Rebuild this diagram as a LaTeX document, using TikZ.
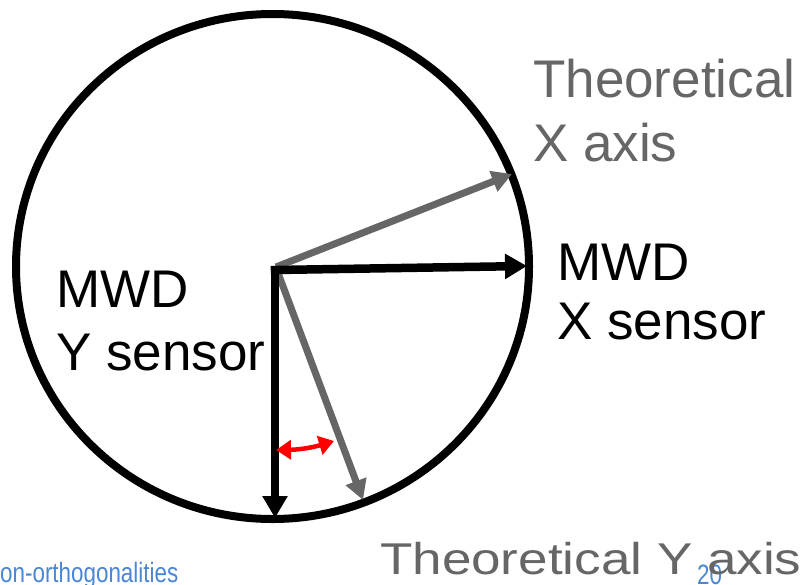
\documentclass[tikz,border=0pt]{standalone}
\usepackage{fontspec}
\setmainfont{Liberation Sans}
\usetikzlibrary{arrows.meta,positioning}
\definecolor{axisgray}{RGB}{102,102,102}
\definecolor{slideblue}{RGB}{74,134,214}
\tikzset{
  sensorarrow/.style={-{Triangle[length=22pt,width=24pt]}, line width=8.5pt, draw=black},
  theoryarrow/.style={-{Triangle[length=20pt,width=21pt]}, line width=7pt, draw=axisgray},
  anglearrow/.style={{Triangle[length=15pt,width=19pt]}-{Triangle[length=15pt,width=19pt]}, line width=4.5pt, draw=red},
  biglabel/.style={font=\fontsize{53}{60}\selectfont, anchor=base west, inner sep=0pt},
  footlabel/.style={font=\fontsize{28}{30}\selectfont, text=slideblue, anchor=base west, inner sep=0pt},
}

\begin{document}
\begin{tikzpicture}[x=1pt, y=-1pt]
    \useasboundingbox (0,0) rectangle (811,584);
    % tool face
    \draw[line width=8pt] (272.5,266.5) ellipse [x radius=256.5, y radius=252.5];
    % axes
    \coordinate (o) at (275,270);
    \coordinate (xs) at (527,266);
    \coordinate (ys) at (275,518);
    \coordinate (ot) at (276,267);
    \coordinate (xt) at (512,174);
    \coordinate (oy) at (278,273);
    \coordinate (yt) at (363,500);
    \draw[theoryarrow] (ot) -- (xt);
    \draw[theoryarrow] (oy) -- (yt);
    \draw[sensorarrow, line cap=rect] (o) -- (xs);
    \draw[sensorarrow, line cap=rect] (o) -- (ys);
    % misalignment angle
    \coordinate (ra) at (276,450);
    \coordinate (rb) at (334,441);
    \draw[anglearrow] (ra) to[bend right=8] (rb);
    % labels
    \node[biglabel, text=axisgray] (thx1) at (533,97) {Theoretical};
    \node[biglabel, text=axisgray] (thx2) at (533,161) {X axis};
    \node[biglabel] (mwdx1) at (557,280) {MWD};
    \node[biglabel] (mwdx2) at (557,339) {X sensor};
    \node[biglabel] (mwdy1) at (56,307) {MWD};
    \node[biglabel] (mwdy2) at (56,370) {Y sensor};
    \node[footlabel] (foot) at (0,582) {\scalebox{0.8}[1]{on-orthogonalities}};
    \node[footlabel] (page) at (697,584) {\scalebox{0.8}[1]{20}};
    \node[biglabel, text=axisgray] (thy) at (380,574) {\scalebox{1}[0.84]{Theoretical Y axis}};
\end{tikzpicture}
\end{document}
